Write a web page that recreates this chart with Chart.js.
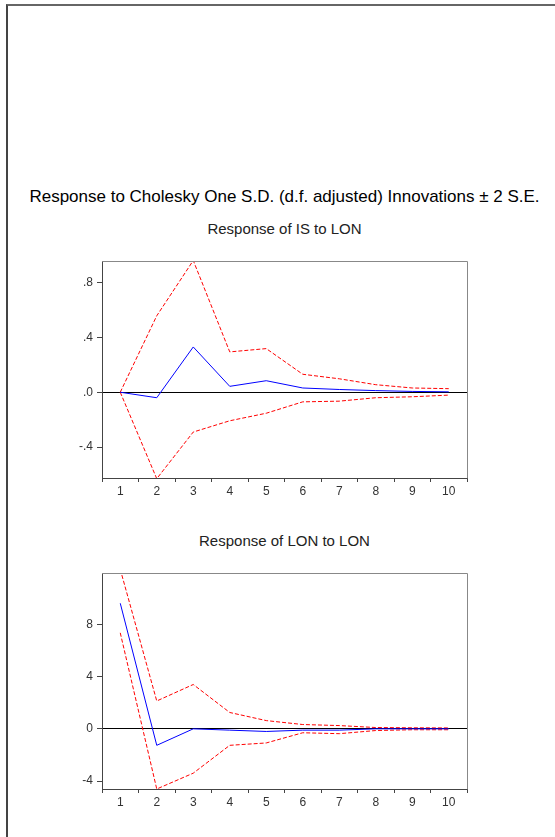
<!DOCTYPE html>
<html>
<head>
<meta charset="utf-8">
<script src="https://cdn.jsdelivr.net/npm/chart.js@4/dist/chart.umd.min.js"></script>
<style>
  html, body { margin: 0; padding: 0; background: #fff; }
  body { width: 555px; height: 837px; position: relative; overflow: hidden;
         font-family: "Liberation Sans", Arial, sans-serif; }
  .frame { position: absolute; left: 6px; top: 4px; width: 600px; height: 900px;
           border-left: 2px solid #444; border-top: 2px solid #666; }
  .title { position: absolute; left: 0; width: 569px; text-align: center; color: #000; white-space: nowrap; }
  #main  { top: 187px; font-size: 17px; }
  #sub1  { top: 220px; font-size: 15px; color: #222; }
  #sub2  { top: 532px; font-size: 15px; color: #222; }
  .box   { position: absolute; left: 60px; width: 420px; }
  #box1  { top: 250px; height: 253px; }
  #box2  { top: 562px; height: 252px; }
</style>
</head>
<body>
<div class="frame"></div>
<div class="title" id="main">Response to Cholesky One S.D. (d.f. adjusted) Innovations ± 2 S.E.</div>
<div class="title" id="sub1">Response of IS to LON</div>
<div class="title" id="sub2">Response of LON to LON</div>
<div class="box" id="box1"><canvas id="c1"></canvas></div>
<div class="box" id="box2"><canvas id="c2"></canvas></div>

<script>
/* periods */
const periods = ['1', '2', '3', '4', '5', '6', '7', '8', '9', '10'];

/* Response of IS to LON */
const isResp  = [0.0, -0.04, 0.33, 0.043, 0.084, 0.031, 0.02, 0.012, 0.006, 0.003];
const isUpper = [0.0, 0.557, 0.96, 0.294, 0.318, 0.131, 0.098, 0.055, 0.031, 0.026];
const isLower = [0.0, -0.63, -0.29, -0.208, -0.153, -0.07, -0.065, -0.04, -0.033, -0.021];
const isTicks  = [-0.4, 0, 0.4, 0.8];
const isLabels = ['-.4', '.0', '.4', '.8'];
const isRange  = [-0.625, 0.955];

/* Response of LON to LON */
const lonResp  = [9.6, -1.26, 0.0, -0.1, -0.2, -0.1, -0.1, 0.0, 0.0, 0.0];
const lonUpper = [12.2, 2.13, 3.39, 1.25, 0.63, 0.33, 0.25, 0.1, 0.08, 0.07];
const lonLower = [7.34, -4.6, -3.39, -1.26, -1.08, -0.3, -0.37, -0.13, -0.07, -0.07];
const lonTicks  = [-4, 0, 4, 8];
const lonLabels = ['-4', '0', '4', '8'];
const lonRange  = [-4.6, 11.9];

/* box round the plot area: light top/right, darker left/bottom axes */
const plotFrame = {
  id: 'plotFrame',
  afterDraw(chart) {
    const a = chart.chartArea, ctx = chart.ctx;
    const l = Math.round(a.left) + 0.5, r = Math.round(a.right) + 0.5;
    const t = Math.round(a.top) + 0.5, b = Math.round(a.bottom) + 0.5;
    ctx.save();
    ctx.lineWidth = 1;
    ctx.strokeStyle = '#888';
    ctx.beginPath();
    ctx.moveTo(l, t); ctx.lineTo(r, t); ctx.lineTo(r, b);
    ctx.stroke();
    ctx.strokeStyle = '#444';
    ctx.beginPath();
    ctx.moveTo(l, t); ctx.lineTo(l, b); ctx.lineTo(r, b);
    ctx.stroke();
    ctx.restore();
  }
};

function makeChart(id, resp, upper, lower, ticks, labels, range) {
  const band = (data) => ({
    data, borderColor: '#ff0000', borderWidth: 1, borderDash: [4, 2],
    pointRadius: 0, tension: 0, fill: false
  });
  return new Chart(document.getElementById(id), {
    type: 'line',
    data: {
      labels: periods,
      datasets: [
        { data: resp, borderColor: '#0000ff', borderWidth: 1, pointRadius: 0, tension: 0, fill: false },
        band(upper),
        band(lower)
      ]
    },
    plugins: [plotFrame],
    options: {
      responsive: true,
      maintainAspectRatio: false,
      animation: false,
      events: [],
      layout: { padding: { top: 8, right: 13, left: 0, bottom: 0 } },
      plugins: { legend: { display: false }, tooltip: { enabled: false } },
      scales: {
        x: {
          type: 'category',
          offset: true,
          grid: { offset: true, drawOnChartArea: false, tickLength: 4, color: '#444' },
          border: { display: false },
          ticks: { color: '#333', font: { family: 'Liberation Sans', size: 12 }, padding: 2, maxRotation: 0 },
          afterFit: s => { s.height = 25; }
        },
        y: {
          min: range[0], max: range[1],
          afterBuildTicks: s => { s.ticks = ticks.map(v => ({ value: v })); },
          grid: {
            color: c => (c.tick && c.tick.value === 0) ? '#000' : 'rgba(0,0,0,0)',
            tickColor: '#444', tickLength: 5, lineWidth: 1
          },
          border: { display: false },
          ticks: {
            color: '#333', font: { family: 'Liberation Sans', size: 12 }, padding: 4,
            callback: v => labels[ticks.indexOf(v)] ?? ''
          },
          afterFit: s => { s.width = 42; }
        }
      }
    }
  });
}

makeChart('c1', isResp, isUpper, isLower, isTicks, isLabels, isRange);
makeChart('c2', lonResp, lonUpper, lonLower, lonTicks, lonLabels, lonRange);
</script>
</body>
</html>
